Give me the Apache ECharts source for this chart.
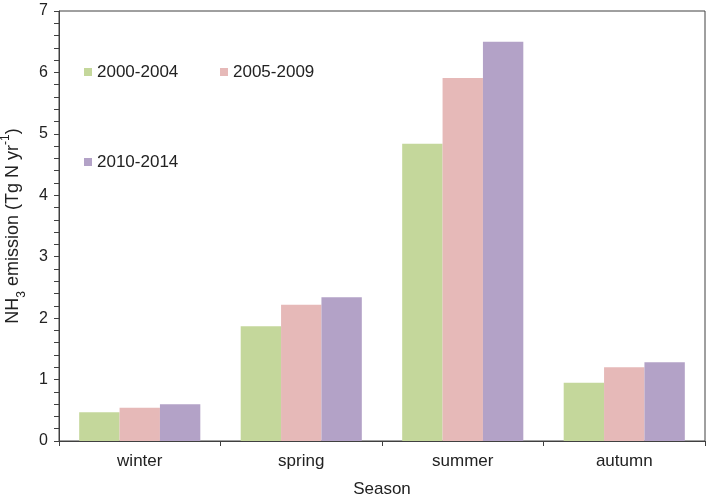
<!DOCTYPE html>
<html><head><meta charset="utf-8">
<script src="https://cdn.jsdelivr.net/npm/echarts@6/dist/echarts.min.js"></script>
<style>html,body{margin:0;padding:0;background:#fff}#c{width:709px;height:494px}</style>
</head><body><div id="c"></div>
<script>
var categories = ['winter', 'spring', 'summer', 'autumn'];
var seriesNames = ['2000-2004', '2005-2009', '2010-2014'];
var s2000 = [0.47, 1.87, 4.84, 0.95];
var s2005 = [0.54, 2.22, 5.91, 1.20];
var s2010 = [0.60, 2.34, 6.50, 1.28];
var colors = ['#c4d79b', '#e6b9b8', '#b3a2c7'];
var seriesData = [s2000, s2005, s2010];

var chart = echarts.init(document.getElementById('c'));
var FF = 'Liberation Sans, Arial';
var legendBase = {
  icon: 'rect', itemWidth: 8, itemHeight: 8, itemGap: 6,
  textStyle: { fontFamily: FF, fontSize: 17, color: '#222', lineHeight: 18 },
  padding: 0
};
chart.setOption({
  animation: false,
  color: colors,
  legend: [
    Object.assign({}, legendBase, { left: 84, top: 63, data: [seriesNames[0]] }),
    Object.assign({}, legendBase, { left: 220, top: 63, data: [seriesNames[1]] }),
    Object.assign({}, legendBase, { left: 84, top: 153, data: [seriesNames[2]] })
  ],
  grid: { left: 59, right: 4, top: 11, bottom: 53, show: true, borderColor: '#404040', borderWidth: 1, containLabel: false, outerBoundsMode: 'none' },
  xAxis: {
    type: 'category', data: categories,
    name: 'Season', nameLocation: 'middle', nameGap: 40,
    nameTextStyle: { fontFamily: FF, fontSize: 17, color: '#222' },
    axisLine: { lineStyle: { color: '#404040', width: 1 } },
    axisTick: { show: true, inside: false, length: 5, lineStyle: { color: '#404040' } },
    axisLabel: { fontFamily: FF, fontSize: 17, color: '#222', margin: 12 }
  },
  yAxis: {
    type: 'value', min: 0, max: 7, interval: 1,
    name: '{a|NH}{sub|3}{a| emission (Tg N yr}{sup|-1}{a|)}',
    nameLocation: 'middle', nameGap: 35, nameRotate: 90,
    nameTextStyle: {
      fontFamily: FF, fontSize: 18, color: '#222',
      rich: {
        a: { fontFamily: FF, fontSize: 18, color: '#222', lineHeight: 22, verticalAlign: 'middle' },
        sub: { fontFamily: FF, fontSize: 12, color: '#222', lineHeight: 22, verticalAlign: 'bottom', padding: [0, 0, -4, 0] },
        sup: { fontFamily: FF, fontSize: 12, color: '#222', lineHeight: 22, verticalAlign: 'top', padding: [-2, 0, 0, 0] }
      }
    },
    axisLine: { show: true, lineStyle: { color: '#404040', width: 1 } },
    axisTick: { show: true, inside: false, length: 5, lineStyle: { color: '#404040' } },
    minorTick: { show: true, splitNumber: 5, length: 5, lineStyle: { color: '#404040' } },
    splitLine: { show: false },
    axisLabel: { fontFamily: FF, fontSize: 16, color: '#222', margin: 11 }
  },
  series: seriesNames.map(function (n, i) {
    return { name: n, type: 'bar', data: seriesData[i], barGap: '0%', barCategoryGap: '25%', itemStyle: { color: colors[i] } };
  })
});
</script></body></html>
